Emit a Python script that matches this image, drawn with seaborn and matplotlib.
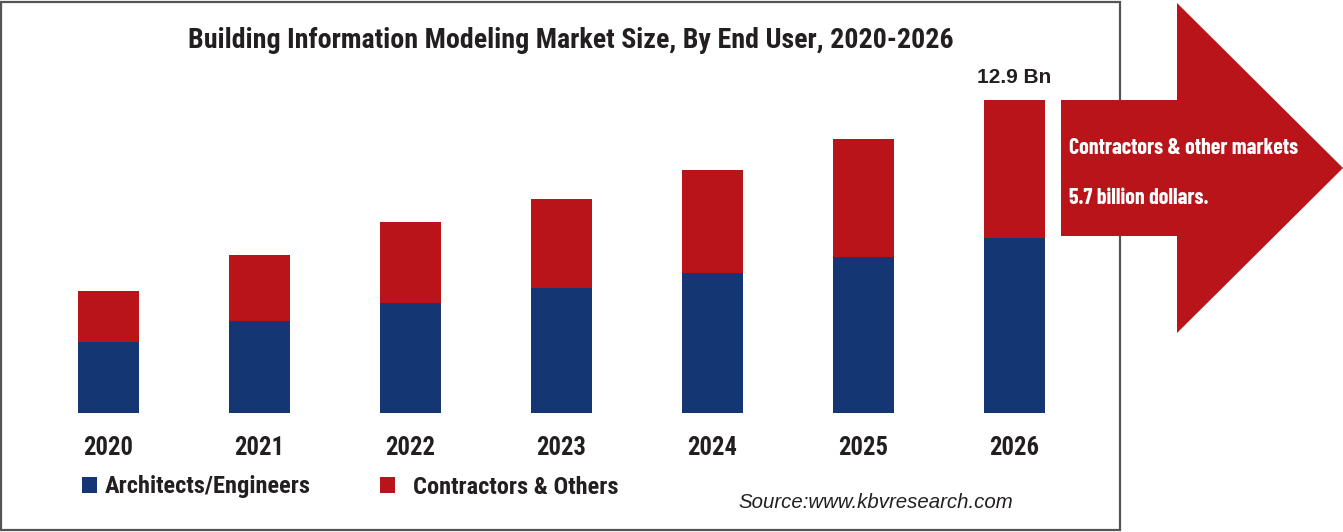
import matplotlib
matplotlib.use("Agg")
import matplotlib.pyplot as plt
import matplotlib.patches as mpatches
import matplotlib.font_manager as fm
import seaborn as sns
import pandas as pd

years = ["2020", "2021", "2022", "2023", "2024", "2025", "2026"]
architects = [2.94, 3.80, 4.53, 5.17, 5.76, 6.45, 7.2]
contractors = [2.11, 2.72, 3.35, 3.65, 4.24, 4.84, 5.7]
series_names = ["Architects/Engineers", "Contractors & Others"]
title = "Building Information Modeling Market Size, By End User, 2020-2026"
top_label = "12.9 Bn"
callout = ["Contractors & other markets", "5.7 billion dollars."]
source = "Source:www.kbvresearch.com"

BLUE = "#143673"
RED = "#BA141B"
INK = "#231f20"

sns.set_theme(style="white")
plt.rcParams["font.family"] = ["Liberation Sans", "DejaVu Sans"]


def pick(cands):
    for c in cands:
        for f in fm.fontManager.ttflist:
            try:
                w = int(f.weight)
            except (TypeError, ValueError):
                w = 700 if "bold" in str(f.weight) else 400
            if f.name == c and w >= 600 and f.style == "normal":
                return c
    return "Liberation Sans"


COND = [pick(["Roboto Condensed", "Archivo Narrow", "PT Sans Narrow", "Fira Sans Condensed",
              "IBM Plex Sans Condensed", "Open Sans Condensed", "Encode Sans Condensed",
              "Liberation Sans Narrow", "Barlow Semi Condensed"]), "DejaVu Sans"]
COMP = [pick(["Barlow Condensed", "Fira Sans Extra Condensed", "Saira Extra Condensed",
              "Sofia Sans Extra Condensed", "Encode Sans Compressed", "Saira Condensed",
              "Fira Sans Condensed", "Roboto Condensed"]), "DejaVu Sans"]

W, H = 1343, 532
fig = plt.figure(figsize=(W / 100, H / 100), dpi=100)
fig.patch.set_facecolor("white")
renderer = fig.canvas.get_renderer()


def fx(x):
    return x / W


def fy(y):
    return (H - y) / H


def fit(t, target):
    for _ in range(3):
        w = t.get_window_extent(renderer).width
        t.set_fontsize(t.get_fontsize() * target / w)
    return t.get_fontsize()


# border box
fig.patches.append(mpatches.Rectangle((fx(1), fy(530)), fx(1120) - fx(1), fy(2) - fy(530),
                                      transform=fig.transFigure, fill=False,
                                      edgecolor="#555555", linewidth=1.6, zorder=1))

df = pd.DataFrame({"year": years, "arch": architects, "contr": contractors})
df["total"] = df["arch"] + df["contr"]

ax = fig.add_axes([fx(32.5), fy(413.3), 1057.6 / W, 340 / H])
ax.set_facecolor("none")
sns.barplot(data=df, x="year", y="total", color=RED, width=0.404, saturation=1,
            linewidth=0, ax=ax)
sns.barplot(data=df, x="year", y="arch", color=BLUE, width=0.404, saturation=1,
            linewidth=0, ax=ax)
ax.set_xlim(-0.5, 6.5)
ax.set_ylim(0, 14)
for s in ax.spines.values():
    s.set_visible(False)
ax.set_yticks([])
ax.set_xlabel("")
ax.set_ylabel("")

probe = fig.text(0, 0, "2020", fontsize=16, fontweight="bold", family=COND)
fs_y = fit(probe, 50)
probe.remove()
ax.tick_params(axis="x", length=0, pad=22 - 0.3 * fs_y)
for lab in ax.get_xticklabels():
    lab.set_fontfamily(COND)
    lab.set_fontweight("bold")
    lab.set_fontsize(fs_y)
    lab.set_color(INK)

ax.annotate(top_label, xy=(6, df["total"].iloc[-1]), xytext=(0, 16), textcoords="offset points",
            ha="center", va="center", fontsize=15, fontweight="bold", color=INK,
            family=["Liberation Sans", "DejaVu Sans"])

tt = fig.text(fx(571), fy(40), title, ha="center", va="center", fontsize=19,
              fontweight="bold", family=COND, color=INK)
fit(tt, 768)

# arrow callout
arrow_pts = [(1061, 100), (1177, 100), (1177, 3), (1343, 168), (1177, 333), (1177, 236), (1061, 236)]
fig.patches.append(mpatches.Polygon([(fx(x), fy(y)) for x, y in arrow_pts], closed=True,
                                    transform=fig.transFigure, facecolor=RED, edgecolor="none",
                                    zorder=3))
c1 = fig.text(fx(1069), fy(148), callout[0], ha="left", va="center", fontsize=14,
              fontweight="bold", family=COMP, color="white", zorder=4)
fs_c = fit(c1, 229)
fig.text(fx(1069), fy(198), callout[1], ha="left", va="center", fontsize=fs_c,
         fontweight="bold", family=COMP, color="white", zorder=4)

# legend (two entries placed like the reference)
probe = fig.text(0, 0, series_names[0], fontsize=16, fontweight="bold", family=COND)
fs_l = fit(probe, 207)
probe.remove()
px = fs_l * 100 / 72
for color, name, x0, pad in [(BLUE, series_names[0], 82, 8), (RED, series_names[1], 380, 18)]:
    h = mpatches.Patch(facecolor=color, edgecolor="none", label=name)
    lg = fig.legend(handles=[h], loc="center left", bbox_to_anchor=(fx(x0), fy(487)),
                    frameon=False, borderpad=0, borderaxespad=0,
                    handlelength=15 / px, handleheight=15 / px, handletextpad=pad / px,
                    prop={"family": COND, "weight": "bold", "size": fs_l})
    for t in lg.get_texts():
        t.set_color(INK)

st = fig.text(fx(738), fy(503), source, ha="left", va="center", fontsize=14, style="italic",
              color=INK, family=["Liberation Sans", "DejaVu Sans"])
fit(st, 274)

fig.savefig("out.png", dpi=100, facecolor="white")
